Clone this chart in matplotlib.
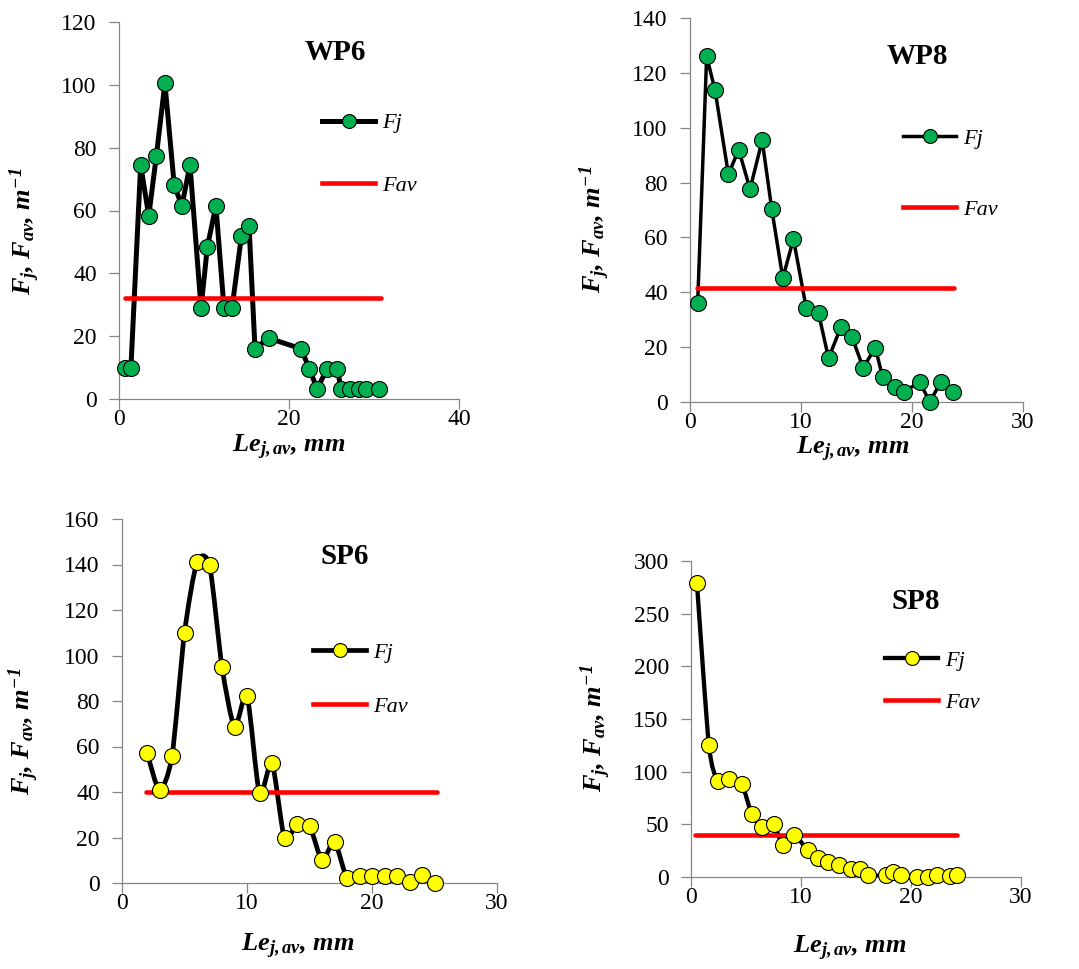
import numpy as np
import matplotlib
matplotlib.use("Agg")
import matplotlib.pyplot as plt
from matplotlib.path import Path
from matplotlib.patches import PathPatch
from matplotlib.lines import Line2D

plt.rcParams['font.family'] = ['Liberation Serif', 'DejaVu Serif']
plt.rcParams['font.serif'] = ['Liberation Serif', 'DejaVu Serif']
plt.rcParams['mathtext.fontset'] = 'custom'
plt.rcParams['mathtext.it'] = 'Liberation Serif:bold:italic'
plt.rcParams['mathtext.rm'] = 'Liberation Serif:bold:italic'
plt.rcParams['mathtext.bf'] = 'Liberation Serif:bold:italic'

# ---------------- data ----------------
wp6_x = [0.7, 1.4, 2.55, 3.5, 4.4, 5.4, 6.5, 7.4, 8.35, 9.65, 10.4, 11.4, 12.35, 13.3,
         14.4, 15.3, 16.0, 17.6, 21.4, 22.4, 23.3, 24.5, 25.7, 26.1, 27.2, 28.2, 29.1, 30.6]
wp6_y = [9.8, 9.8, 74.5, 58.3, 77.5, 100.5, 68.0, 61.5, 74.5, 29.0, 48.5, 61.5, 29.0, 29.0,
         51.8, 55.0, 16.0, 19.4, 16.0, 9.7, 3.2, 9.7, 9.7, 3.2, 3.2, 3.2, 3.2, 3.2]
wp6_fav = 32.2
wp6_fav_x = [0.7, 30.8]

wp8_x = [0.69, 1.5, 2.26, 3.46, 4.39, 5.41, 6.5, 7.37, 8.36, 9.32, 10.47, 11.58, 12.48,
         13.6, 14.6, 15.6, 16.7, 17.35, 18.5, 19.25, 20.7, 21.6, 22.6, 23.7]
wp8_y = [36.0, 126.0, 113.6, 83.0, 92.0, 77.6, 95.4, 70.2, 45.2, 59.4, 34.3, 32.4, 16.0,
         27.3, 23.6, 12.5, 19.8, 9.1, 5.5, 3.6, 7.3, 0.0, 7.3, 3.6]
wp8_fav = 41.6
wp8_fav_x = [0.6, 23.8]

sp6_x = [2, 3, 4, 5, 6, 7, 8, 9, 10, 11, 12, 13, 14, 15, 16, 17, 18, 19, 20, 21, 22, 23, 24, 25]
sp6_y = [57.3, 40.9, 55.8, 110.0, 141.0, 139.6, 95.0, 68.7, 82.2, 39.5, 52.6, 19.7, 26.0,
         25.1, 10.2, 18.0, 2.2, 3.2, 3.2, 3.2, 3.2, 0.3, 3.6, 0.0]
sp6_fav = 40.0
sp6_fav_x = [1.9, 25.2]

sp8_x = [0.54, 1.63, 2.45, 3.48, 4.62, 5.52, 6.47, 7.5, 8.37, 9.38, 10.6, 11.55, 12.45,
         13.45, 14.54, 15.35, 16.1, 17.7, 18.4, 19.1, 20.5, 21.5, 22.4, 23.5, 24.2]
sp8_y = [278.7, 124.9, 91.4, 92.9, 87.9, 59.8, 47.9, 50.0, 30.2, 39.6, 25.7, 18.3, 13.9,
         11.5, 7.4, 8.0, 1.5, 1.5, 4.4, 1.5, 0.0, 0.0, 1.5, 0.5, 1.5]
sp8_fav = 39.6
sp8_fav_x = [0.4, 24.2]

titles = ["WP6", "WP8", "SP6", "SP8"]
legend_labels = ["Fj", "Fav"]
xlabel_text = r"$Le_{j,av}$, mm"
ylabel_text = r"$F_j$, $F_{av}$, $m^{-1}$"

GREEN = "#00B050"
YELLOW = "#FFFF00"
RED = "#FF0000"
GRAY = "#868686"

W, H = 1079, 969
fig = plt.figure(figsize=(W / 100, H / 100), dpi=100)


def px_axes(l, t, r, b):
    return fig.add_axes([l / W, 1 - b / H, (r - l) / W, (b - t) / H])


def smooth_path(x, y, k=8.0):
    p = np.column_stack([x, y]).astype(float)
    n = len(p)
    verts = [p[0]]
    codes = [Path.MOVETO]
    for i in range(n - 1):
        p0 = p[i - 1] if i > 0 else p[i]
        p1 = p[i]
        p2 = p[i + 1]
        p3 = p[i + 2] if i + 2 < n else p[i + 1]
        c1 = p1 + (p2 - p0) / k
        c2 = p2 - (p3 - p1) / k
        verts += [c1, c2, p2]
        codes += [Path.CURVE4] * 3
    return Path(verts, codes)


panels = [
    dict(box=(119, 22, 459, 399), x=wp6_x, y=wp6_y, fav=wp6_fav, favx=wp6_fav_x,
         color=GREEN, lw=3.6, smooth=False, xlim=(0, 40), xt=[0, 20, 40],
         ylim=(0, 120), yt=np.arange(0, 121, 20), title=titles[0], tpos=(0.635, 0.92),
         leg=(0.597, 0.6485), ls=1.9, xl=(0.5, -0.142), yl=(-0.276, 0.446)),
    dict(box=(690, 18, 1023, 402), x=wp8_x, y=wp8_y, fav=wp8_fav, favx=wp8_fav_x,
         color=GREEN, lw=2.5, smooth=False, xlim=(0, 30), xt=[0, 10, 20, 30],
         ylim=(0, 140), yt=np.arange(0, 141, 20), title=titles[1], tpos=(0.682, 0.901),
         leg=(0.640, 0.594), ls=2.26, xl=(0.49, -0.137), yl=(-0.285, 0.45)),
    dict(box=(122, 519, 497, 883), x=sp6_x, y=sp6_y, fav=sp6_fav, favx=sp6_fav_x,
         color=YELLOW, lw=3.4, smooth=True, xlim=(0, 30), xt=[0, 10, 20, 30],
         ylim=(0, 160), yt=np.arange(0, 161, 20), title=titles[2], tpos=(0.595, 0.896),
         leg=(0.509, 0.558), ls=1.5, xl=(0.47, -0.187), yl=(-0.261, 0.418)),
    dict(box=(691, 561, 1021, 877), x=sp8_x, y=sp8_y, fav=sp8_fav, favx=sp8_fav_x,
         color=YELLOW, lw=3.1, smooth=True, xlim=(0, 30), xt=[0, 10, 20, 30],
         ylim=(0, 300), yt=np.arange(0, 301, 50), title=titles[3], tpos=(0.682, 0.873),
         leg=(0.588, 0.619), ls=0.96, xl=(0.48, -0.241), yl=(-0.29, 0.47)),
]

for P in panels:
    ax = px_axes(*P["box"])
    ax.set_xlim(*P["xlim"])
    ax.set_ylim(*P["ylim"])
    ax.set_xticks(P["xt"])
    ax.set_yticks(P["yt"])
    for s in ["top", "right"]:
        ax.spines[s].set_visible(False)
    for s in ["left", "bottom"]:
        ax.spines[s].set_color(GRAY)
        ax.spines[s].set_linewidth(0.9)
    ax.tick_params(axis="both", direction="out", length=7, width=0.9, color=GRAY,
                   labelsize=17, labelcolor="black", labelfontfamily="Liberation Serif")
    ax.tick_params(axis="y", pad=9)
    ax.tick_params(axis="x", pad=0.5)
    ax.patch.set_alpha(0)

    # Fav line
    ax.plot(P["favx"], [P["fav"], P["fav"]], color=RED, lw=3.3, solid_capstyle="round",
            zorder=3)
    # Fj line
    if P["smooth"]:
        patch = PathPatch(smooth_path(P["x"], P["y"]), facecolor="none", edgecolor="black",
                          lw=P["lw"], zorder=2, capstyle="round", joinstyle="round")
        ax.add_patch(patch)
    else:
        ax.plot(P["x"], P["y"], color="black", lw=P["lw"], zorder=2,
                solid_joinstyle="miter")
    ax.plot(P["x"], P["y"], linestyle="none", marker="o", markersize=11.5,
            markerfacecolor=P["color"], markeredgecolor="black", markeredgewidth=0.8,
            zorder=4, clip_on=False)

    ax.text(P["tpos"][0], P["tpos"][1], P["title"], transform=ax.transAxes,
            ha="center", va="center", fontsize=21, fontweight="bold")

    h1 = Line2D([], [], color="black", lw=P["lw"], marker="o", markersize=10,
                markerfacecolor=P["color"], markeredgecolor="black", markeredgewidth=0.8)
    h2 = Line2D([], [], color=RED, lw=3.3)
    ax.legend([h1, h2], legend_labels, loc="center left", bbox_to_anchor=P["leg"],
              frameon=False, borderpad=0, borderaxespad=0, handlelength=2.4,
              handletextpad=0.3, labelspacing=P["ls"],
              prop=dict(family="Liberation Serif", style="italic", size=16))

    ax.set_xlabel(xlabel_text, fontsize=19, va="baseline", fontweight="bold",
                  style="italic")
    ax.xaxis.set_label_coords(*P["xl"])
    ax.set_ylabel(ylabel_text, fontsize=19, va="center", fontweight="bold",
                  style="italic")
    ax.yaxis.set_label_coords(*P["yl"])

fig.savefig("out.png", dpi=100)
